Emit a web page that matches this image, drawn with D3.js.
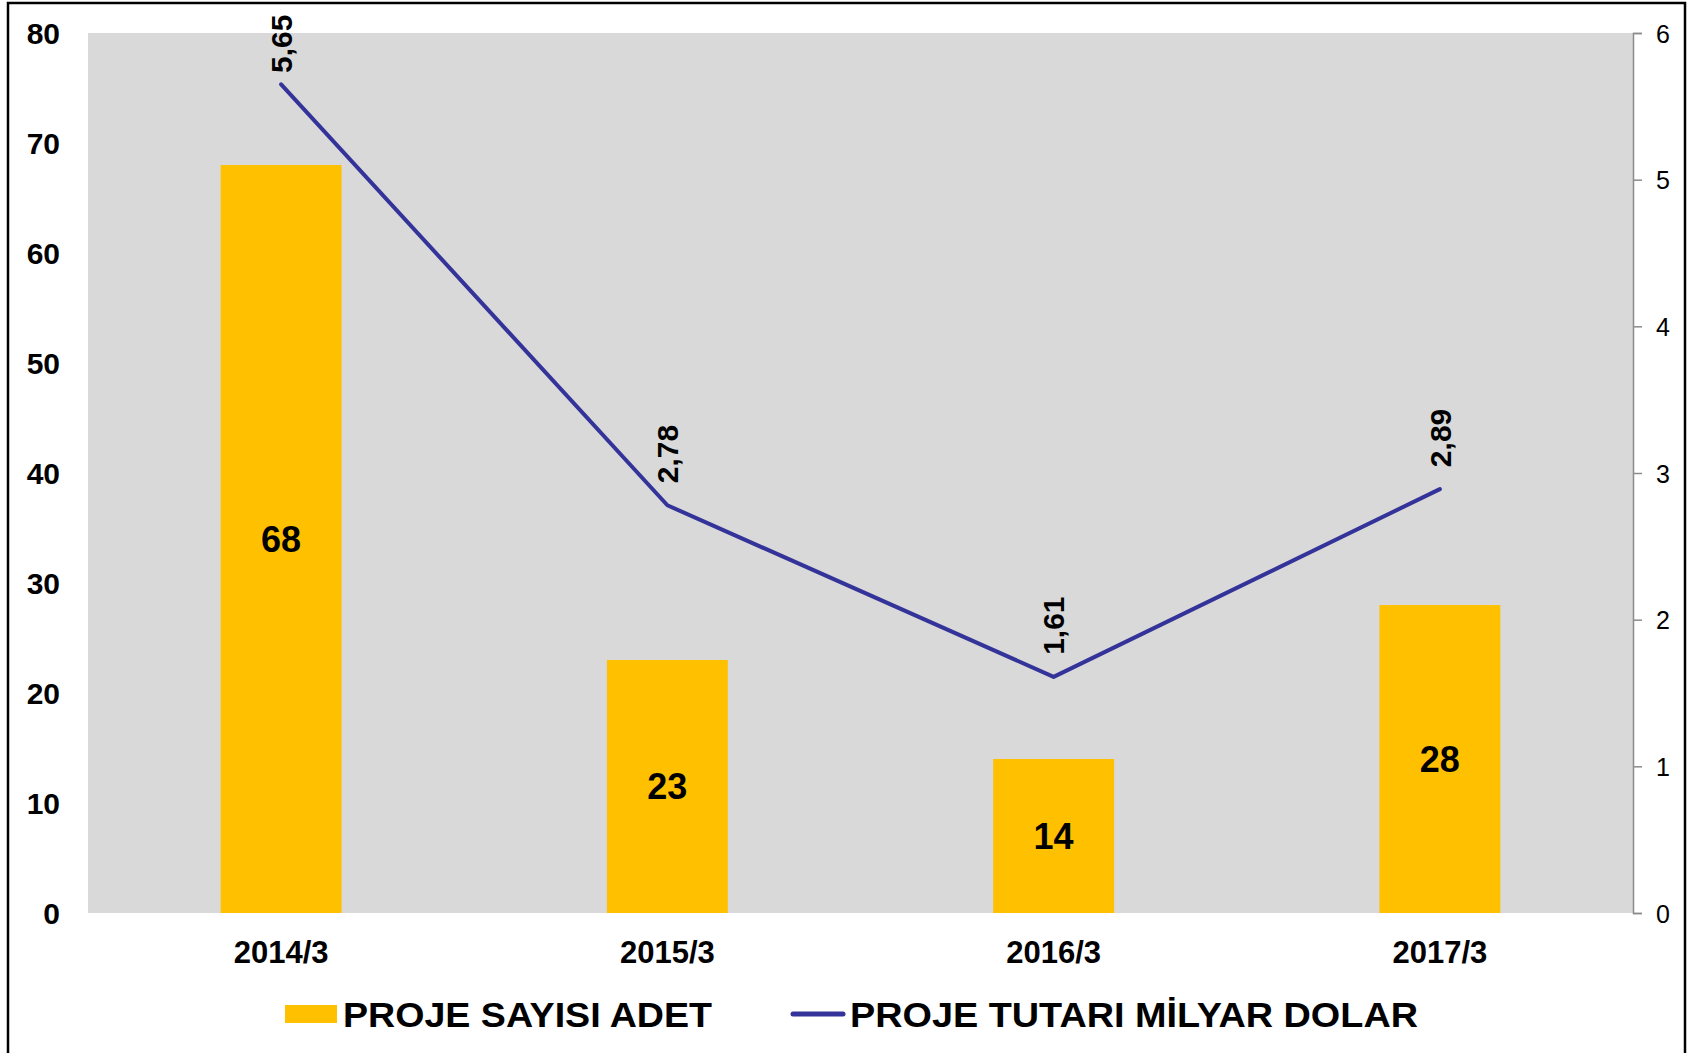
<!DOCTYPE html>
<html><head><meta charset="utf-8">
<script src="https://cdn.jsdelivr.net/npm/d3@7/dist/d3.min.js"></script>
<style>body{margin:0;background:#fff}svg{display:block}text{font-family:"Liberation Sans",Arial,sans-serif}</style>
</head><body><svg id="c" width="1692" height="1053"></svg>
<script>
const categories = ["2014/3","2015/3","2016/3","2017/3"];
const projeSayisi = [68,23,14,28];
const projeTutari = [5.65,2.78,1.61,2.89];
const tutariLabels = ["5,65","2,78","1,61","2,89"];
const leftTicks = [0,10,20,30,40,50,60,70,80];
const rightTicks = [0,1,2,3,4,5,6];
const legendNames = ["PROJE SAYISI ADET","PROJE TUTARI MİLYAR DOLAR"];

const svg = d3.select("#c");
const L=88, R=1633, T=33, B=913;
// outer border
svg.append("rect").attr("x",8).attr("y",3).attr("width",1677).attr("height",1060)
  .attr("fill","none").attr("stroke","#000").attr("stroke-width",2.5);
svg.append("rect").attr("x",L).attr("y",T).attr("width",R-L).attr("height",B-T).attr("fill","#D9D9D9");

const x = d3.scaleBand().domain(categories).range([L,R]).padding(0);
const yL = d3.scaleLinear().domain([0,80]).range([B,T]);
const yR = d3.scaleLinear().domain([0,6]).range([B,T]);
const barW = x.bandwidth()*0.313;

// bars
svg.selectAll(".bar").data(projeSayisi).join("rect")
  .attr("x",(d,i)=>x(categories[i])+x.bandwidth()/2-barW/2)
  .attr("y",d=>yL(d)).attr("width",barW).attr("height",d=>B-yL(d)).attr("fill","#FFC000");
svg.selectAll(".blab").data(projeSayisi).join("text")
  .attr("x",(d,i)=>x(categories[i])+x.bandwidth()/2)
  .attr("y",d=>(yL(d)+B)/2).attr("dy","0.36em").attr("text-anchor","middle")
  .attr("font-size",36).attr("font-weight","bold").text(d=>d);

// left axis
const gl = svg.append("g").attr("transform",`translate(${L},0)`)
  .call(d3.axisLeft(yL).tickValues(leftTicks).tickSize(0).tickPadding(28).tickFormat(d3.format("d")));
gl.select(".domain").remove();
gl.selectAll("text").attr("font-size",30).attr("font-weight","bold").attr("fill","#000")
  .style("font-family","'Liberation Sans',Arial,sans-serif").attr("dy","0.36em");

// right axis
const gr = svg.append("g").attr("transform",`translate(${R},0)`)
  .call(d3.axisRight(yR).tickValues(rightTicks).tickSize(9).tickPadding(14).tickFormat(d3.format("d")));
gr.select(".domain").attr("stroke","#8c8c8c").attr("stroke-width",1.5);
gr.selectAll("line").attr("stroke","#8c8c8c").attr("stroke-width",1.5);
gr.selectAll("text").attr("font-size",25).attr("fill","#000")
  .style("font-family","'Liberation Sans',Arial,sans-serif").attr("dy","0.36em");

// category axis
const gx = svg.append("g").attr("transform",`translate(0,${B})`)
  .call(d3.axisBottom(x).tickSize(0).tickPadding(0));
gx.select(".domain").remove();
gx.selectAll("text").attr("font-size",31).attr("font-weight","bold").attr("fill","#000")
  .style("font-family","'Liberation Sans',Arial,sans-serif").attr("dy",null).attr("y",50);

// line
const line = d3.line().x((d,i)=>x(categories[i])+x.bandwidth()/2).y(d=>yR(d));
svg.append("path").datum(projeTutari).attr("d",line).attr("fill","none")
  .attr("stroke","#333399").attr("stroke-width",4).attr("stroke-linecap","round").attr("stroke-linejoin","round");
svg.selectAll(".llab").data(projeTutari).join("text")
  .attr("transform",(d,i)=>{
    const cx = x(categories[i])+x.bandwidth()/2;
    const cy = Math.max(yR(d)-22, 73);
    return `translate(${cx},${cy}) rotate(-90)`;
  })
  .attr("dy","0.36em").attr("text-anchor","start")
  .attr("font-size",30).attr("font-weight","bold").text((d,i)=>tutariLabels[i]);

// legend
svg.append("rect").attr("x",285).attr("y",1005).attr("width",52).attr("height",18).attr("fill","#FFC000");
svg.append("text").attr("x",343).attr("y",1027).attr("font-size",35).attr("font-weight","bold")
  .attr("textLength",369).attr("lengthAdjust","spacingAndGlyphs").text(legendNames[0]);
svg.append("line").attr("x1",793).attr("x2",843).attr("y1",1014).attr("y2",1014)
  .attr("stroke","#333399").attr("stroke-width",5).attr("stroke-linecap","round");
svg.append("text").attr("x",850).attr("y",1027).attr("font-size",35).attr("font-weight","bold")
  .attr("textLength",568).attr("lengthAdjust","spacingAndGlyphs").text(legendNames[1]);
</script></body></html>
